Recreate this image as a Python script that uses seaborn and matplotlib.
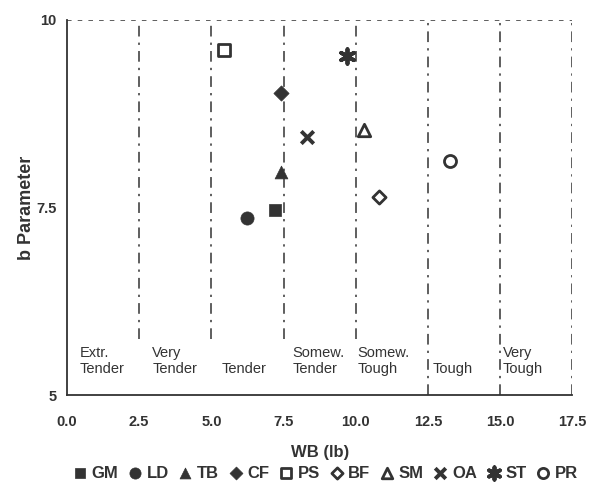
import matplotlib
matplotlib.use("Agg")
import matplotlib.pyplot as plt
import pandas as pd
import seaborn as sns

codes = ["GM", "LD", "TB", "CF", "PS", "BF", "SM", "OA", "ST", "PR"]
wb = [7.2, 6.25, 7.4, 7.4, 5.45, 10.8, 10.3, 8.3, 9.7, 13.25]
b_param = [7.47, 7.36, 7.97, 9.02, 9.6, 7.64, 8.53, 8.44, 9.52, 8.12]

boundaries = [2.5, 5.0, 7.5, 10.0, 12.5, 15.0, 17.5]
region_labels = ["Extr.\nTender", "Very\nTender", "Tender", "Somew.\nTender",
                 "Somew.\nTough", "Tough", "Very\nTough"]
region_x = [0.45, 2.95, 5.35, 7.8, 10.05, 12.65, 15.1]

ink = "#333333"
marker_map = {"GM": "s", "LD": "o", "TB": "^", "CF": "D", "PS": "s",
              "BF": "D", "SM": "^", "OA": "x", "ST": (6, 2, 0), "PR": "o"}
open_codes = {"PS", "BF", "SM", "PR"}
sizes = {"GM": 80, "LD": 90, "TB": 85, "CF": 60, "PS": 75, "BF": 45,
         "SM": 80, "OA": 80, "ST": 110, "PR": 75}

df = pd.DataFrame({"code": codes, "wb": wb, "b": b_param})

sns.set_theme(style="white")
plt.rcParams["font.family"] = ["Liberation Sans", "DejaVu Sans"]

fig = plt.figure(figsize=(5.93, 4.94), dpi=100)
ax = fig.add_axes([0.113, 0.200, 0.852, 0.760])

for i, lim in enumerate(boundaries):
    ymin = 0.15 if i < 4 else 0.0
    ax.axvline(lim, ymin=ymin, ymax=1, color=ink, lw=1.1,
               linestyle=(0, (7, 4, 1.5, 4)))
ax.axhline(10, color=ink, lw=1.1, linestyle=(0, (3, 4)))

for c in codes:
    sub = df[df["code"] == c]
    m = marker_map[c]
    if c in open_codes:
        kw = dict(facecolor="white", edgecolor=ink, linewidth=2.0)
    elif c in ("OA", "ST"):
        kw = dict(color=ink, linewidth=2.8)
    else:
        kw = dict(color=ink, edgecolor=ink, linewidth=0.5)
    sns.scatterplot(data=sub, x="wb", y="b", marker=m, s=sizes[c], ax=ax,
                    label=c, zorder=5, **kw)

for lab, xp in zip(region_labels, region_x):
    ax.text(xp, 5.25, lab, fontsize=10.5, color=ink, ha="left", va="bottom",
            linespacing=1.25)

ax.set_xlim(0, 17.5)
ax.set_ylim(5, 10)
ax.set_xticks([0, 2.5, 5, 7.5, 10, 12.5, 15, 17.5])
ax.set_xticklabels(["0.0", "2.5", "5.0", "7.5", "10.0", "12.5", "15.0", "17.5"])
ax.set_yticks([5, 7.5, 10])
ax.set_yticklabels(["5", "7.5", "10"])
ax.tick_params(axis="both", colors=ink, labelsize=10.5, length=5, width=1,
               direction="inout", pad=5)
ax.tick_params(axis="x", pad=12)
for lbl in ax.get_xticklabels() + ax.get_yticklabels():
    lbl.set_fontweight("bold")
    lbl.set_color(ink)

for side in ["top", "right"]:
    ax.spines[side].set_visible(False)
for side in ["left", "bottom"]:
    ax.spines[side].set_color(ink)
    ax.spines[side].set_linewidth(1.3)

ax.set_xlabel("WB (lb)", fontsize=12, fontweight="bold", color=ink, labelpad=11)
ax.set_ylabel("b Parameter", fontsize=13, fontweight="bold", color=ink, labelpad=1)

ax.legend(loc="center", bbox_to_anchor=(0.51, -0.208), ncol=10,
          frameon=False, handlelength=1.0, handletextpad=0.2, columnspacing=0.5,
          markerscale=0.85, prop={"weight": "bold", "size": 12})
for t in ax.get_legend().get_texts():
    t.set_color(ink)

fig.savefig("out.png", dpi=100, facecolor="white")
